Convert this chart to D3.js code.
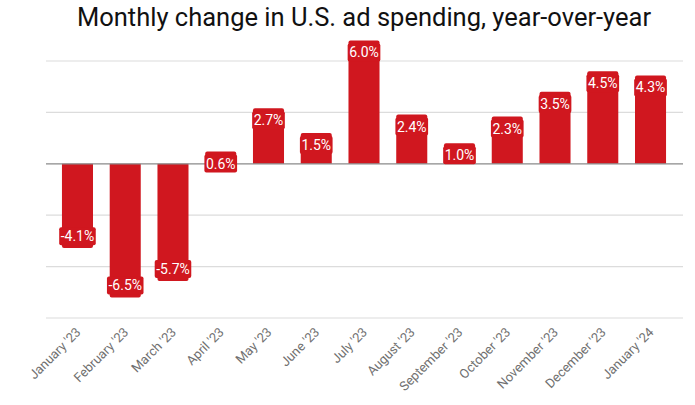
<!DOCTYPE html>
<html><head><meta charset="utf-8">
<script src="https://cdn.jsdelivr.net/npm/d3@7"></script>
<style>body{margin:0;background:#fff}svg{display:block}</style>
</head><body>
<script>
const categories = ["January '23","February '23","March '23","April '23","May '23","June '23","July '23","August '23","September '23","October '23","November '23","December '23","January '24"];
const values = [-4.1,-6.5,-5.7,0.6,2.7,1.5,6.0,2.4,1.0,2.3,3.5,4.5,4.3];
const gridTicks = [-7.5,-5,-2.5,0,2.5,5];
const title = "Monthly change in U.S. ad spending, year-over-year";

const W=695,H=405;
const svg=d3.select("body").append("svg").attr("width",W).attr("height",H);
const x=d3.scaleBand().domain(categories).range([53.6,674.4]).paddingInner(0.35).paddingOuter(0.175);
const y=d3.scaleLinear().domain([-7.5,5]).range([318,61]);
const red="#d0171f";

svg.append("text").attr("x",364).attr("y",26).attr("text-anchor","middle")
  .attr("font-family","Roboto").attr("font-size",25.5).attr("fill","#111").text(title);

svg.append("g").selectAll("line").data(gridTicks.filter(d=>d!==0)).join("line")
  .attr("x1",46).attr("x2",683).attr("y1",d=>y(d)).attr("y2",d=>y(d))
  .attr("stroke","#dcdcdc").attr("stroke-width",1.2);

const r=2;
function barPath(d){
  const x0=x(d.c), w=x.bandwidth(), y0=y(0), y1=y(d.v);
  if(d.v>=0){
    return `M${x0},${y0}V${y1+r}Q${x0},${y1} ${x0+r},${y1}H${x0+w-r}Q${x0+w},${y1} ${x0+w},${y1+r}V${y0}Z`;
  } else {
    return `M${x0},${y0}V${y1-r}Q${x0},${y1} ${x0+r},${y1}H${x0+w-r}Q${x0+w},${y1} ${x0+w},${y1-r}V${y0}Z`;
  }
}
const data=categories.map((c,i)=>({c,v:values[i]}));
svg.append("g").selectAll("path").data(data).join("path").attr("d",barPath).attr("fill",red);

svg.append("line").attr("x1",46).attr("x2",683).attr("y1",y(0)).attr("y2",y(0))
  .attr("stroke","#8a8a8a").attr("stroke-width",1.3);

const lg=svg.append("g").selectAll("g").data(data).join("g")
  .attr("transform",d=>`translate(${x(d.c)+x.bandwidth()/2},${d.v>=0?y(d.v)+12:y(d.v)-12})`);
lg.append("text").attr("text-anchor","middle").attr("dy","0.36em")
  .attr("font-family","Roboto").attr("font-size",14).attr("fill","#fff")
  .text(d=>d.v.toFixed(1)+"%");
lg.each(function(){
  const g=d3.select(this); const t=g.select("text"); const b=t.node().getBBox();
  g.insert("rect","text").attr("x",b.x-1.5).attr("y",b.y-1).attr("width",b.width+3).attr("height",b.height+2)
   .attr("rx",2).attr("fill",red);
});

svg.append("g").selectAll("text").data(categories).join("text")
  .attr("transform",d=>`translate(${x(d)+x.bandwidth()/2+4},${333}) rotate(-45)`)
  .attr("text-anchor","end").attr("font-family","Roboto").attr("font-size",13).attr("fill","#707070")
  .text(d=>d);
</script>
</body></html>
